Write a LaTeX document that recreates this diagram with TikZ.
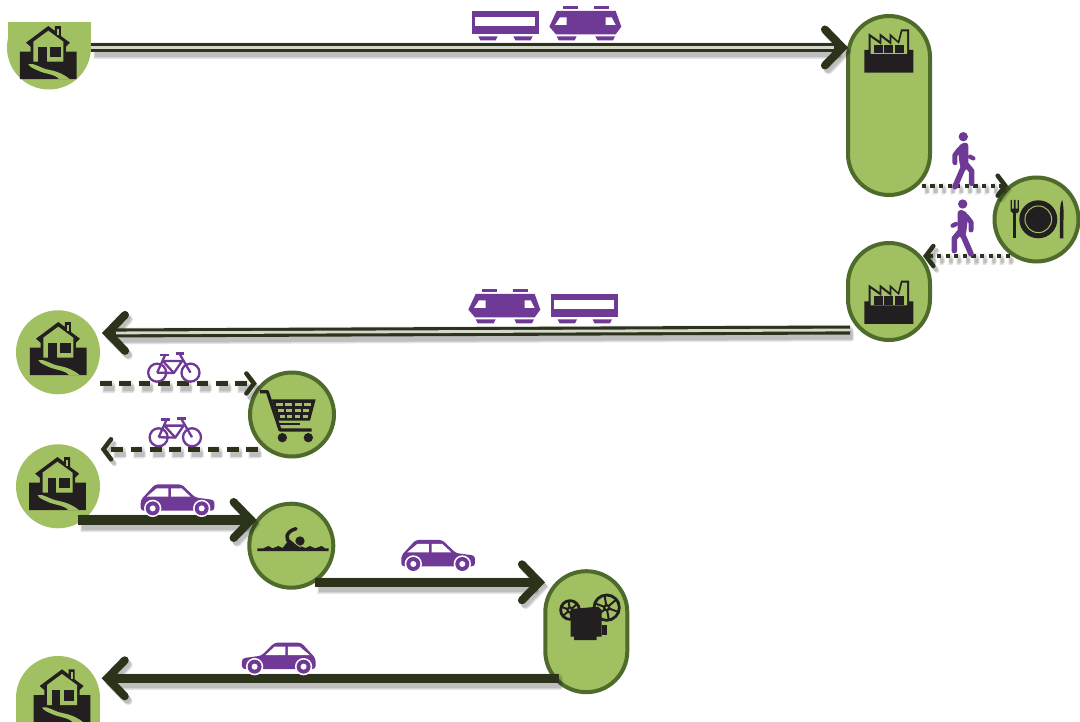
\documentclass[tikz,border=0pt]{standalone}
\usetikzlibrary{arrows.meta,calc}
\definecolor{leaf}{HTML}{A1C062}
\definecolor{rim}{HTML}{4F6B2C}
\definecolor{rail}{HTML}{2B331A}
\definecolor{railgap}{HTML}{D5D7CF}
\definecolor{ink}{HTML}{231F20}
\definecolor{violet}{HTML}{6F3996}
\tikzset{
  Big/.tip={Straight Barb[length=17.5pt,width=36pt,line width=8pt,line cap=round,line join=miter]},
  Small/.tip={Straight Barb[length=7.5pt,width=20pt,line width=4.5pt,line cap=round,line join=miter]},
  disc/.style={circle,fill=leaf,minimum size=84pt,inner sep=0pt,outer sep=0pt},
  ringed/.style={circle,fill=leaf,draw=rim,line width=4pt,minimum size=84pt,inner sep=0pt,outer sep=0pt},
  capsule/.style={rectangle,rounded corners=41pt,fill=leaf,draw=rim,line width=4pt,minimum width=82pt,minimum height=#1,inner sep=0pt,outer sep=0pt},
  twin/.style={line width=9pt,rail},
  twingap/.style={line width=2.8pt,railgap},
  solidrail/.style={line width=9.5pt,rail},
  dashrail/.style={line width=4.5pt,rail,dash pattern=on 11.7pt off 7.6pt},
  dotrail/.style={line width=4pt,rail,dash pattern=on 4.3pt off 4.3pt},
  house/.pic={
    \fill[ink] (-67,48) -- (0,-2) -- (20,13) -- (20,-2) -- (38,-2) -- (38,28) -- (65,48) -- (53,60) -- (53,75)
       -- (85,75) -- (85,157) -- (-85,157) -- (-85,75) -- (-53,75) -- (-53,60) -- cycle;
    \fill[leaf] (-45,45) -- (0,12) -- (45,45) -- (45,105) -- (-45,105) -- cycle;
    \fill[leaf] (26,6) rectangle (32,26);
    \fill[ink] (-30,60) rectangle (-5,107);
    \fill[ink] (5,60) rectangle (37,92);
    \fill[leaf] (-60,112) .. controls (-40,108) and (-25,125) .. (5,130)
       .. controls (30,135) and (50,145) .. (64,157) -- (32,157)
       .. controls (20,142) and (-10,142) .. (-30,132)
       .. controls (-45,125) and (-55,122) .. (-60,112) -- cycle;
  },
  factory/.pic={
    \fill[ink] (-60,-50) -- (-27,-27) -- (-27,-50) -- (3,-27) -- (3,-50) -- (28,-27) -- (37,-62) -- (61,-62)
       -- (61,0) -- (74,0) -- (74,68) -- (-73,68) -- (-73,0) -- (-60,0) -- cycle;
    \fill[leaf] (-54,-38) -- (-22,-15) -- (-22,-38) -- (8,-15) -- (8,-38) -- (31,-18) -- (41,-56) -- (55,-56)
       -- (55,12) -- (-54,12) -- cycle;
    \fill[ink] (-44,-15) rectangle (-18,10);
    \fill[ink] (-14,-15) rectangle (14,10);
    \fill[ink] (18,-15) rectangle (46,10);
  },
  dinner/.pic={
    \fill[ink] (0,0) circle[radius=57];
    \draw[leaf,line width=1pt] (0,0) circle[radius=40];
    \fill[ink] (-66,-18) rectangle (-75,57);
    \fill[ink] (-83,-58) -- (-79,-58) -- (-79,-32) -- (-73,-32) -- (-73,-58) -- (-68,-58) -- (-68,-32) -- (-62,-32) -- (-62,-58) -- (-58,-58) -- (-58,-25)
       .. controls (-60,-15) and (-78,-15) .. (-83,-25) -- cycle;
    \fill[ink] (65,57) -- (65,-20) .. controls (65,-40) and (68,-52) .. (72,-58) .. controls (76,-40) and (77,-15) .. (75,10) -- (75,57) -- cycle;
  },
  trolley/.pic={
    \draw[ink,line width=3.2pt,line join=round] (30,35) -- (52,35) -- (90,150) -- (185,150);
    \fill[ink] (65,58) -- (197,58) -- (180,122) -- (85,122) -- cycle;
    \foreach \r in {68,87,105}{
      \pgfmathsetmacro{\xa}{65+(\r-58)*0.31+9}
      \pgfmathsetmacro{\xs}{(132-(\r-58)*0.58-12)/4}
      \foreach \c in {0,1,2,3}{
        \fill[leaf] ({\xa+\c*\xs},\r) rectangle ++({\xs-8},9);
      }
    }
    \draw[ink,line width=2.6pt] (85,132) -- (150,132);
    \fill[ink] (97,173) circle[radius=14];
    \fill[ink] (175,173) circle[radius=14];
  },
  swimmer/.pic={
    \fill[ink] (22,85) -- (40,85) -- (55,78) -- (68,85) -- (85,78) -- (98,84) -- (118,58) -- (140,75) -- (167,84)
       -- (180,78) -- (195,85) -- (215,78) -- (225,85) -- (236,85) -- (236,93) -- (22,93) -- cycle;
    \fill[ink] (150,63) circle[radius=14];
    \draw[ink,line width=3.5pt,line cap=round,line join=round] (122,70) .. controls (105,60) and (105,35) .. (138,26);
    \draw[leaf,line width=.7pt] (133,68) -- (152,82);
  },
  projector/.pic={
    \foreach \cx/\cy/\rr in {60/75/28,170/68/38}{
      \draw[ink,line width=2.8pt] (\cx,\cy) circle[radius=\rr];
      \foreach \a in {20,80,...,320}{
        \draw[ink,line width=2pt] (\cx,\cy) -- ++(\a:\rr);
      }
      \fill[ink] (\cx,\cy) circle[radius=11];
      \fill[leaf] (\cx,\cy) circle[radius=4];
    }
    \fill[ink] (62,72) -- (145,65) -- (155,75) -- (155,155) -- (140,155) -- (140,165) -- (72,165) -- (72,155) -- (62,155) -- cycle;
    \fill[ink] (155,120) rectangle (172,150);
  },
  coach/.pic={
    \fill[violet] (65,33) rectangle (267,103);
    \fill[white] (75,50) rectangle (255,77);
    \fill[violet] (85,109) -- (143,109) -- (137,121) -- (91,121) -- cycle;
    \fill[violet] (190,109) -- (248,109) -- (242,121) -- (196,121) -- cycle;
  },
  engine/.pic={
    \fill[violet] (298,80) -- (320,33) -- (497,33) -- (514,80) -- (497,103) -- (318,103) -- cycle;
    \fill[white] (315,75) -- (330,52) -- (350,52) -- (350,75) -- cycle;
    \fill[white] (467,52) -- (485,52) -- (497,75) -- (467,75) -- cycle;
    \fill[violet] (320,109) -- (380,109) -- (374,121) -- (326,121) -- cycle;
    \fill[violet] (436,109) -- (495,109) -- (489,121) -- (442,121) -- cycle;
    \fill[violet] (338,17) rectangle (385,27);
    \fill[violet] (432,17) rectangle (478,27);
  },
  auto/.pic={
    \fill[violet,rounded corners=3pt] (0,-32) -- (43,-79) -- (123,-79) -- (163,-40) -- (221,-32) -- (221,0) -- (0,0) -- cycle;
    \fill[white] (18,-42) -- (48,-67) -- (83,-67) -- (83,-42) -- cycle;
    \fill[white] (91,-67) -- (123,-67) -- (150,-42) -- (91,-42) -- cycle;
    \foreach \w in {36,183}{
      \fill[white] (\w,-7) circle[radius=26];
      \fill[violet] (\w,-7) circle[radius=21];
      \fill[white] (\w,-7) circle[radius=9];
    }
  },
  cycle/.pic={
    \draw[violet,line width=2.3pt] (65,77) circle[radius=27];
    \draw[violet,line width=2.3pt] (165,77) circle[radius=27];
    \draw[violet,line width=2.3pt,line join=round] (65,77) -- (88,26);
    \draw[violet,line width=2.3pt,line join=round] (82,42) -- (140,42) -- (115,78) -- (65,77);
    \draw[violet,line width=2.3pt,line join=round] (82,42) -- (115,78);
    \draw[violet,line width=2.3pt,line join=round] (165,77) -- (133,22);
    \draw[violet,line width=2.8pt] (72,24) -- (100,24);
    \draw[violet,line width=2.8pt] (120,20) -- (146,20);
  },
  walker/.pic={
    \fill[violet] (0,0) circle[radius=14];
    \fill[violet,rounded corners=3pt] (-17,32) -- (-3,18) -- (15,18) -- (15,95) -- (0,105) -- (-10,90) -- cycle;
    \draw[violet,line width=5pt,line cap=round,line join=round] (-12,38) -- (-25,55) -- (-25,78);
    \draw[violet,line width=4.4pt,line cap=round] (20,60) -- (30,65);
    \draw[violet,line width=5.6pt,line cap=round,line join=round] (0,92) -- (-25,150);
    \draw[violet,line width=5.6pt,line cap=round,line join=round] (10,85) -- (25,103) -- (25,140);
  }
}
\newcommand\link[4]{%
  \foreach \dx/\dy/\ex in {2/-3/8,3/-4/5.5,3/-4/3.5,3.5/-4.5/1.5,4/-5/0}{%
    \draw[#1,#2,draw=black,opacity=.055,line width=\pgflinewidth+\ex pt,transform canvas={shift={(\dx pt,\dy pt)}}] #3 -- #4;
  }%
  \draw[#1,#2] #3 -- #4;%
}
\begin{document}
\begin{tikzpicture}[x=1pt,y=-1pt]
\clip (0,0) rectangle (1080,722);
\fill[white] (0,0) rectangle (1080,722);
% places
\fill[leaf] (8,22) rectangle (91,48);
\node[disc] (home1) at (49,47.5) {};
\fill[white] (0,0) rectangle (110,22);
\node[capsule=179pt] (fact1) at (889,105.5) {};
\node[ringed] (dine) at (1036.5,219.5) {};
\node[capsule=97pt] (fact2) at (889,291.5) {};
\node[disc] (home2) at (58,352.3) {};
\node[ringed] (shop) at (292,414.5) {};
\node[disc] (home3) at (58,486.3) {};
\node[ringed] (pool) at (291.3,545.7) {};
\node[capsule=121pt] (cine) at (586.3,631.7) {};
\fill[leaf] (16,698) rectangle (100,722);
\node[disc] (home4) at (58,698) {};
% place icons
\pic[scale=1/3] at (48.3,26.7) {house};
\pic[scale=1/3] at (58.3,322.7) {house};
\pic[scale=1/3] at (57.5,457.7) {house};
\pic[scale=1/3] at (62,670) {house};
\pic[scale=1/3] at (888.7,50) {factory};
\pic[scale=1/3] at (888.7,301.3) {factory};
\pic[scale=1/3] at (1038.3,219.3) {dinner};
\pic[scale=1/3] at (250,380) {trolley};
\pic[scale=1/3] at (250,520) {swimmer};
\pic[scale=1/3] at (550,585) {projector};
% connectors
\link{twin}{-{Big}}{(home1.east)}{(home1.east -| fact1.west)}
\draw[twingap,shorten >=14pt] (home1.east) -- (home1.east -| fact1.west);
\link{dotrail}{-{Small}}{([shift={(32.7,80.2)}]fact1.center)}{([shift={(-28.5,-33.8)}]dine.center)}
\link{dotrail}{-{Small}}{([shift={(-26.5,36.5)}]dine.center)}{([shift={(34,-35.5)}]fact2.center)}
\link{twin}{-{Big}}{([shift={(-39,38.5)}]fact2.center)}{([shift={(44,-19.3)}]home2.center)}
\draw[twingap,shorten >=14pt] ([shift={(-39,38.5)}]fact2.center) -- ([shift={(44,-19.3)}]home2.center);
\link{dashrail}{-{Small}}{([shift={(42,31.2)}]home2.center)}{([shift={(-35.3,-31)}]shop.center)}
\link{dashrail}{-{Small}}{([shift={(-34,34.8)}]shop.center)}{([shift={(42.7,-37)}]home3.center)}
\link{solidrail}{-{Big}}{([shift={(20,33.7)}]home3.center)}{([shift={(-34.6,-25.7)}]pool.center)}
\link{solidrail}{-{Big}}{([shift={(24,36.6)}]pool.center)}{([shift={(-41.3,-49.4)}]cine.center)}
\link{solidrail}{-{Big}}{([shift={(-27,46.6)}]cine.center)}{([shift={(43.7,-19.7)}]home4.center)}
% vehicles
\pic[scale=1/3] at (450,0) {coach};
\pic[scale=1/3] at (450,0) {engine};
\pic[scale=1/3] at (369,283) {engine};
\pic[scale=1/3] at (529.3,283) {coach};
\pic[scale=1/3] at (140.7,510.7) {auto};
\pic[scale=1/3] at (401.3,566.3) {auto};
\pic[xscale=-1/3,yscale=1/3] at (315.6,669) {auto};
\pic[scale=1/3] at (135.5,347) {cycle};
\pic[scale=1/3] at (137,411.6) {cycle};
\pic[scale=1/3] at (963.3,136.7) {walker};
\pic[xscale=-1/3,yscale=1/3] at (962.7,204) {walker};
\end{tikzpicture}
\end{document}
